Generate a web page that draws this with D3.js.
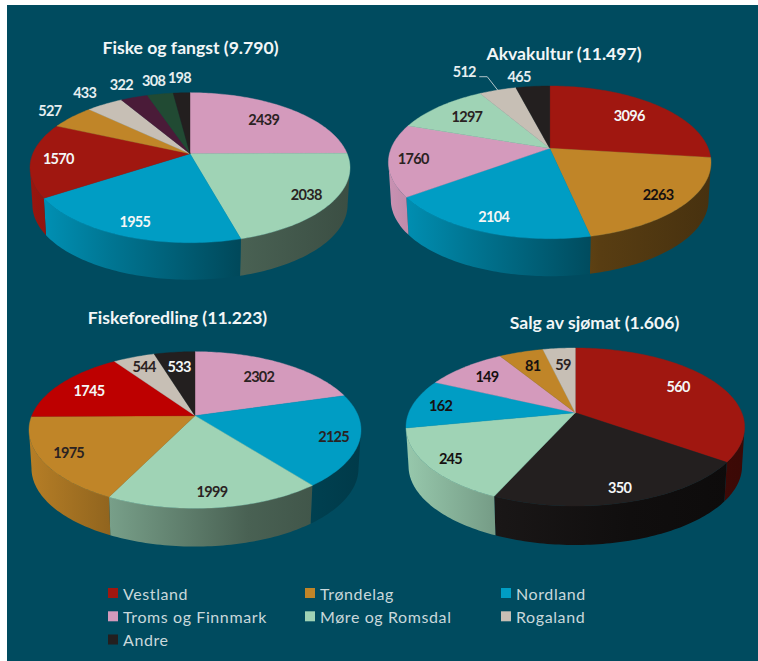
<!DOCTYPE html>
<html>
<head>
<meta charset="utf-8">
<script src="https://cdnjs.cloudflare.com/ajax/libs/d3/7.8.5/d3.min.js"></script>
<style>
  html, body { margin: 0; padding: 0; background: #fff; }
  svg { display: block; }
  text { font-family: Lato, "Noto Sans", sans-serif; }
</style>
</head>
<body>
<div id="chart"></div>
<script>
// Regions, in legend order
const regions = ['Vestland', 'Trøndelag', 'Nordland', 'Troms og Finnmark', 'Møre og Romsdal', 'Rogaland', 'Andre'];

// Slices run clockwise from 12 o'clock
const fiskeRegions = ['Troms og Finnmark', 'Møre og Romsdal', 'Nordland', 'Vestland', 'Trøndelag', 'Rogaland', 'Ukjent A', 'Ukjent B', 'Andre'];
const fiskeValues = [2439, 2038, 1955, 1570, 527, 433, 322, 308, 198];

const akvaRegions = ['Vestland', 'Trøndelag', 'Nordland', 'Troms og Finnmark', 'Møre og Romsdal', 'Rogaland', 'Andre'];
const akvaValues = [3096, 2263, 2104, 1760, 1297, 512, 465];

const foredlingRegions = ['Troms og Finnmark', 'Nordland', 'Møre og Romsdal', 'Trøndelag', 'Vestland', 'Rogaland', 'Andre'];
const foredlingValues = [2302, 2125, 1999, 1975, 1745, 544, 533];

const salgRegions = ['Vestland', 'Andre', 'Møre og Romsdal', 'Nordland', 'Troms og Finnmark', 'Trøndelag', 'Rogaland'];
const salgValues = [560, 350, 245, 162, 149, 81, 59];

const width = 758;
const height = 661;

const regionColor = {
  'Vestland': '#a01710',
  'Trøndelag': '#c08528',
  'Nordland': '#009dc4',
  'Troms og Finnmark': '#d49abc',
  'Møre og Romsdal': '#9fd3b5',
  'Rogaland': '#c7bfb5',
  'Andre': '#231f1f',
  'Ukjent A': '#4a1b38',
  'Ukjent B': '#214a33'
};

const DARK = '#2a2222';
const LIGHT = '#f4f6f6';
const OUTER = '#e6eef0';

// Layout of each pie. apex = where the slices meet, up/down = reach of the rim
// from the apex, halfWidth = widest half of the rim, depth = wall height
const pies = [
  {
    title: 'Fiske og fangst (9.790)', titleX: 190.5, titleY: 47,
    names: fiskeRegions, values: fiskeValues,
    apexX: 190, apexY: 153.7, up: 61, down: 89, halfWidth: 160, depth: 37,
    labelR: [0.73, 0.84, 0.85, 0.83, 1.21, 1.28, 1.28, 1.27, 1.31],
    labelFill: [DARK, DARK, LIGHT, LIGHT, OUTER, OUTER, OUTER, OUTER, OUTER]
  },
  {
    title: 'Akvakultur (11.497)', titleX: 564, titleY: 53,
    names: akvaRegions, values: akvaValues,
    apexX: 549.7, apexY: 148.3, up: 62.3, down: 90.4, halfWidth: 161.3, depth: 37.5,
    labelR: [0.73, 0.83, 0.85, 0.85, 0.73, 1.39, 1.19],
    labelFill: [LIGHT, '#161010', LIGHT, DARK, DARK, OUTER, OUTER],
    labelShift: { 5: -17, 6: -11 },
    leader: 5
  },
  {
    title: 'Fiskeforedling (11.223)', titleX: 177.5, titleY: 317,
    names: foredlingRegions, values: foredlingValues,
    apexX: 195, apexY: 415.7, up: 64, down: 92.6, halfWidth: 166, depth: 38.3,
    labelR: [0.72, 0.85, 0.85, 0.84, 0.78, 0.81, 0.74],
    labelFill: [DARK, DARK, DARK, DARK, LIGHT, DARK, LIGHT],
    override: { 'Vestland': '#bd0000' }
  },
  {
    title: 'Salg av sjømat (1.606)', titleX: 594.5, titleY: 322,
    names: salgRegions, values: salgValues,
    apexX: 575.3, apexY: 412.7, up: 64.7, down: 93.3, halfWidth: 169.3, depth: 39,
    labelR: [0.79, 0.86, 0.865, 0.83, 0.78, 0.76, 0.72],
    labelFill: [LIGHT, LIGHT, '#161010', '#161010', '#161010', '#161010', DARK],
    labelShift: { 0: -7 }
  }
];

// Wall brightness against position across the pie, left to right
const wallShade = d3.scaleLinear()
  .domain([0, 0.25, 0.66, 1])
  .range([0.95, 0.75, 0.46, 0.37]);

const svg = d3.select('#chart').append('svg')
  .attr('width', width)
  .attr('height', height)
  .attr('viewBox', `0 0 ${width} ${height}`);

const defs = svg.append('defs');

// Panel background
svg.append('rect')
  .attr('x', 7)
  .attr('y', 5)
  .attr('width', width - 7)
  .attr('height', height - 5)
  .attr('fill', '#004b5f');

const pieLayout = d3.pie().sort(null).value(d => d);

// Perspective projection of a flat disc onto the screen
function makeProjection(cfg) {
  const k = (cfg.down - cfg.up) / (cfg.down + cfg.up);
  const ry = cfg.up * (1 + k);
  const rx = cfg.halfWidth * Math.sqrt(1 - k * k);
  return {
    k,
    point(r, angle, scaleX = 1, drop = 0) {
      const u = r * Math.sin(angle);
      const v = -r * Math.cos(angle);
      const w = 1 - k * v;
      return [cfg.apexX + scaleX * rx * u / w, cfg.apexY + drop + ry * v / w];
    }
  };
}

function arcPoints(project, start, end, scaleX, drop) {
  const steps = Math.max(2, Math.ceil((end - start) / 0.02));
  return d3.range(steps + 1).map(i => project.point(1, start + (end - start) * i / steps, scaleX, drop));
}

const line = d3.line();

pies.forEach((cfg, pieIndex) => {
  const project = makeProjection(cfg);
  const slices = pieLayout(cfg.values);
  const group = svg.append('g').attr('class', 'pie');
  const colorOf = name => (cfg.override && cfg.override[name]) || regionColor[name];

  // Only the part of the rim facing the viewer has a wall
  const wallStart = Math.acos(-project.k);
  const wallEnd = 2 * Math.PI - wallStart;

  slices.forEach((d, i) => {
    const from = Math.max(d.startAngle, wallStart);
    const to = Math.min(d.endAngle, wallEnd);
    if (to <= from) return;

    const gradientId = `wall-${pieIndex}-${i}`;
    const gradient = defs.append('linearGradient')
      .attr('id', gradientId)
      .attr('gradientUnits', 'userSpaceOnUse')
      .attr('x1', cfg.apexX - cfg.halfWidth)
      .attr('x2', cfg.apexX + cfg.halfWidth)
      .attr('y1', 0)
      .attr('y2', 0);
    const base = d3.rgb(colorOf(cfg.names[i]));
    wallShade.domain().forEach(t => {
      const s = wallShade(t);
      gradient.append('stop')
        .attr('offset', t)
        .attr('stop-color', d3.rgb(base.r * s, base.g * s, base.b * s).formatHex());
    });

    const topEdge = arcPoints(project, from, to, 1, 0);
    const bottomEdge = arcPoints(project, from, to, 0.985, cfg.depth).reverse();
    group.append('path')
      .attr('d', line(topEdge.concat(bottomEdge)) + 'Z')
      .attr('fill', `url(#${gradientId})`);
  });

  // Top surface
  slices.forEach((d, i) => {
    const rim = arcPoints(project, d.startAngle, d.endAngle, 1, 0);
    group.append('path')
      .attr('d', line([[cfg.apexX, cfg.apexY]].concat(rim)) + 'Z')
      .attr('fill', colorOf(cfg.names[i]))
      .attr('stroke', colorOf(cfg.names[i]))
      .attr('stroke-width', 0.4);
  });

  // Value labels
  slices.forEach((d, i) => {
    const mid = (d.startAngle + d.endAngle) / 2;
    const shift = (cfg.labelShift && cfg.labelShift[i]) || 0;
    const [x, y] = project.point(cfg.labelR[i], mid);

    if (cfg.leader === i) {
      const [ex, ey] = project.point(1, mid);
      group.append('path')
        .attr('d', line([[x + shift + 15, y + 5], [x + shift + 23, y + 5], [ex, ey]]))
        .attr('fill', 'none')
        .attr('stroke', '#c7d3d6')
        .attr('stroke-width', 0.9);
    }

    group.append('text')
      .attr('x', x + shift)
      .attr('y', y)
      .attr('text-anchor', 'middle')
      .attr('dominant-baseline', 'central')
      .attr('fill', cfg.labelFill[i])
      .attr('font-size', '14.5px')
      .attr('font-weight', 700)
      .attr('letter-spacing', '-0.7px')
      .text(d.data);
  });

  // Title
  svg.append('text')
    .attr('x', cfg.titleX)
    .attr('y', cfg.titleY)
    .attr('text-anchor', 'middle')
    .attr('dominant-baseline', 'central')
    .attr('fill', '#f2f6f7')
    .attr('font-size', '17.6px')
    .attr('font-weight', 700)
    .text(cfg.title);
});

// Legend, three columns
const legendX = d3.scaleOrdinal().domain([0, 1, 2]).range([108, 305, 501]);
const legendY = d3.scaleOrdinal().domain([0, 1, 2]).range([593, 616.3, 639.5]);

const legendItems = svg.append('g')
  .attr('class', 'legend')
  .selectAll('g')
  .data(regions)
  .enter()
  .append('g')
  .attr('transform', (d, i) => `translate(${legendX(i % 3)}, ${legendY(Math.floor(i / 3))})`);

legendItems.append('rect')
  .attr('x', 0)
  .attr('y', -5)
  .attr('width', 10)
  .attr('height', 10)
  .attr('fill', d => regionColor[d]);

legendItems.append('text')
  .attr('x', 15)
  .attr('y', 0)
  .attr('dominant-baseline', 'central')
  .attr('fill', '#c9d8db')
  .attr('font-size', '16px')
  .attr('letter-spacing', '0.6px')
  .text(d => d);
</script>
</body>
</html>
